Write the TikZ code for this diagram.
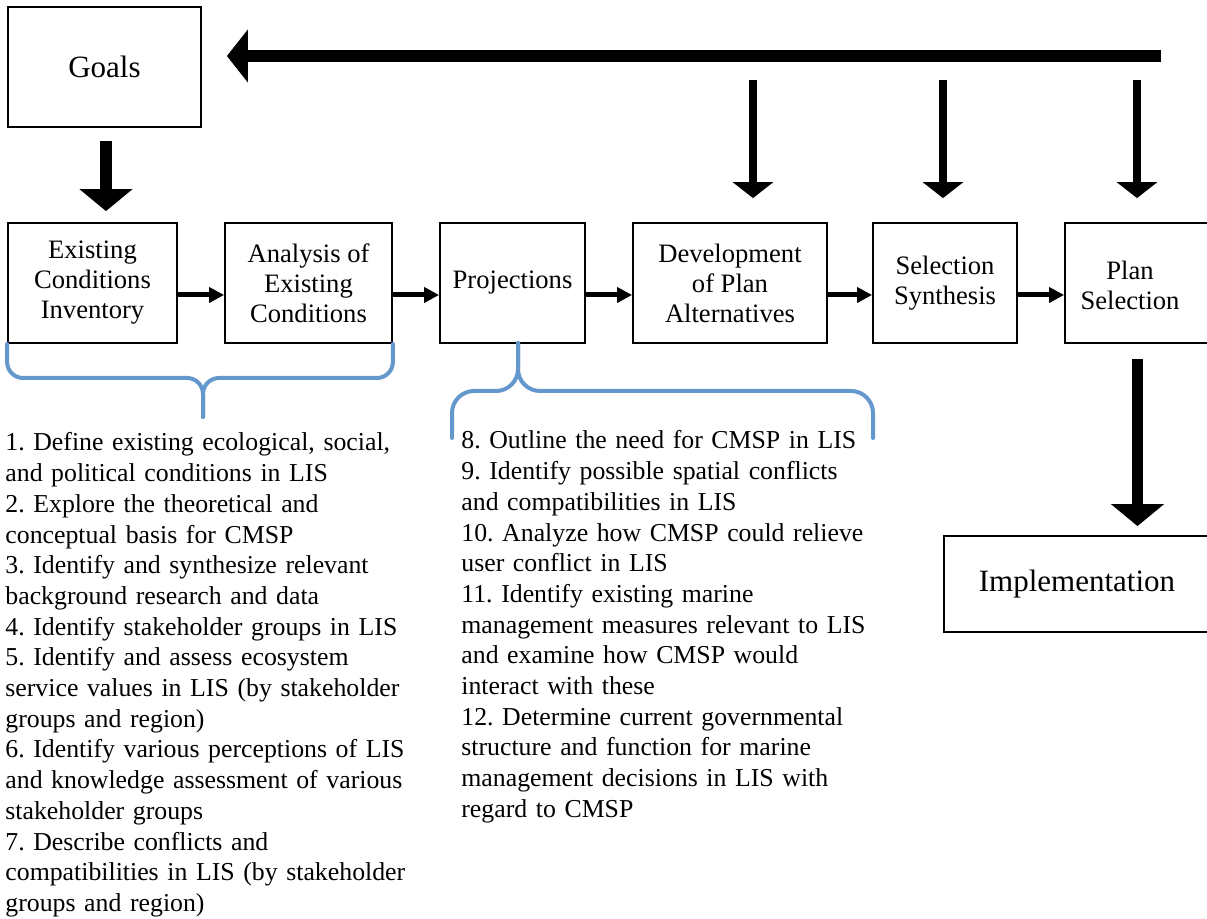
\documentclass[tikz,border=0pt]{standalone}
\usepackage{fontspec}
\setmainfont{Liberation Serif}
\usetikzlibrary{arrows.meta}
\definecolor{braceblue}{RGB}{100,151,204}
\frenchspacing
\begin{document}
\begin{tikzpicture}[x=0.5pt,y=-0.5pt,
  box/.style={draw=black, line width=0.9pt, inner sep=0pt, align=center,
    minimum height=60pt, font=\fontsize{13.3}{15}\selectfont},
  bigbox/.style={box, font=\fontsize{15.5}{18}\selectfont},
  boxtext/.style={inner sep=0pt, align=center, font=\fontsize{13.3}{15}\selectfont},
  listtext/.style={inner sep=0pt, anchor=base west, align=left, text width=215pt,
    font=\fontsize{12.9}{15.35}\selectfont},
  flowarrow/.style={line width=2.5pt, -{Triangle[length=7.5pt, width=7.5pt]}},
  heavyarrow/.style={line width=5.8pt, -{Triangle[length=11pt, width=26pt]}},
  feedarrow/.style={line width=6pt, -{Triangle[length=10.5pt, width=26pt]}},
  droparrow/.style={line width=4pt, -{Triangle[length=8pt, width=20pt]}},
  bracepath/.style={draw=braceblue, line width=2pt, line cap=round}
]
\useasboundingbox (0,0) rectangle (1207,919);

% boxes
\node[bigbox, minimum width=96.5pt] (goals) at (104.5,67) {Goals};
\node[box, minimum width=84.5pt] (b1) at (92.5,283) {Existing\\Conditions\\Inventory};
\node[box, minimum width=83.5pt] (b2) at (308.5,283) {Analysis of\\Existing\\Conditions};
\node[box, minimum width=72.5pt] (b3) at (512.5,283) {Projections};
\node[box, minimum width=97pt] (b4) at (730,283) {Development\\of Plan\\Alternatives};
\node[box, minimum width=72pt] (b5) at (945,283) {Selection\\Synthesis};
\node[box, minimum width=72.5pt] (b6) at (1137.5,283) {};
\node[boxtext] (b6t) at (1130,285) {Plan\\Selection};
\node[bigbox, minimum width=133pt, minimum height=48pt] (impl) at (1077,584) {Implementation};

% flow arrows
\draw[flowarrow] ([yshift=-6pt]b1.east) -- ([yshift=-6pt]b2.west);
\draw[flowarrow] ([yshift=-6pt]b2.east) -- ([yshift=-6pt]b3.west);
\draw[flowarrow] ([yshift=-6pt]b3.east) -- ([yshift=-6pt]b4.west);
\draw[flowarrow] ([yshift=-6pt]b4.east) -- ([yshift=-6pt]b5.west);
\draw[flowarrow] ([yshift=-6pt]b5.east) -- ([yshift=-6pt]b6.west);

% goals to first box
\draw[heavyarrow, shorten <=6.5pt, shorten >=5.5pt] ([xshift=0.75pt]goals.south) -- ([xshift=0.75pt]goals.south |- b1.north);
% plan selection to implementation
\draw[heavyarrow, shorten <=7.5pt, shorten >=4.5pt] (b6.south) -- (b6.south |- impl.north);

% feedback arrow
\coordinate (fb) at (1161,56);
\draw[feedarrow, shorten >=12.5pt] (fb) -- (fb -| goals.east);
\coordinate (d1) at (753,80);
\coordinate (d2) at (943,80);
\coordinate (d3) at (1137,80);
\draw[droparrow, shorten >=12pt] (d1) -- (d1 |- b4.north);
\draw[droparrow, shorten >=12pt] (d2) -- (d2 |- b5.north);
\draw[droparrow, shorten >=12pt] (d3) -- (d3 |- b6.north);

% braces
\draw[bracepath, rounded corners=8pt] (b1.south west) |- (203,378) -- (203,417);
\draw[bracepath, rounded corners=8pt] (b2.south east) |- (203,378) -- (203,417);
\draw[bracepath, rounded corners=11pt] (518,343) -- (518,391) -| (452,438);
\draw[bracepath, rounded corners=11pt] (518,343) -- (518,391) -| (873,438);

% lists
\node[listtext] (list1) at (5,451) {1. Define existing ecological, social,\\
and political conditions in LIS\\
2. Explore the theoretical and\\
conceptual basis for CMSP\\
3. Identify and synthesize relevant\\
background research and data\\
4. Identify stakeholder groups in LIS\\
5. Identify and assess ecosystem\\
service values in LIS (by stakeholder\\
groups and region)\\
6. Identify various perceptions of LIS\\
and knowledge assessment of various\\
stakeholder groups\\
7. Describe conflicts and\\
compatibilities in LIS (by stakeholder\\
groups and region)};
\node[listtext] (list2) at (461,449) {8. Outline the need for CMSP in LIS\\
9. Identify possible spatial conflicts\\
and compatibilities in LIS\\
10. Analyze how CMSP could relieve\\
user conflict in LIS\\
11. Identify existing marine\\
management measures relevant to LIS\\
and examine how CMSP would\\
interact with these\\
12. Determine current governmental\\
structure and function for marine\\
management decisions in LIS with\\
regard to CMSP};
\end{tikzpicture}
\end{document}
